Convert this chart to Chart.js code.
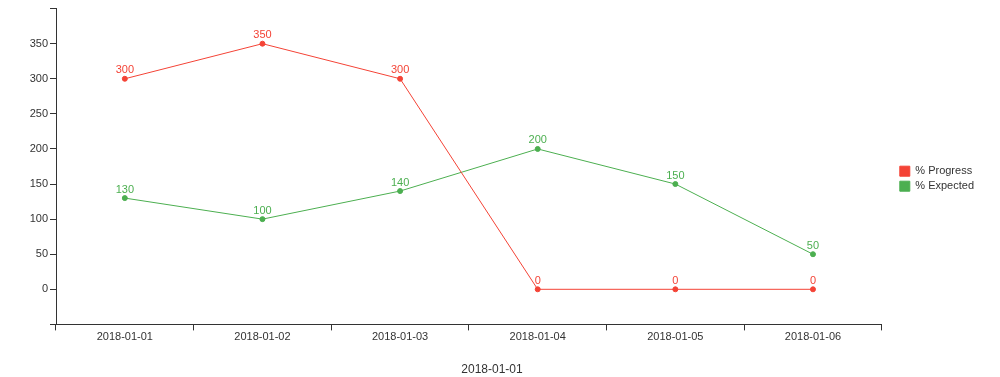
<!DOCTYPE html>
<html>
<head>
<meta charset="utf-8">
<script src="https://cdn.jsdelivr.net/npm/chart.js@4"></script>
<style>
  html, body { margin: 0; padding: 0; background: #fff; }
  #wrap { width: 1000px; height: 377px; }
</style>
</head>
<body>
<div id="wrap"><canvas id="chart"></canvas></div>
<script>
const categories = ['2018-01-01', '2018-01-02', '2018-01-03', '2018-01-04', '2018-01-05', '2018-01-06'];
const progress = [300, 350, 300, 0, 0, 0];
const expected = [130, 100, 140, 200, 150, 50];
const xTitle = '2018-01-01';

const FONT = 'Liberation Sans, Arial, sans-serif';
const TEXT = '#333';

// value above each point, coloured like its line
const pointLabels = {
    id: 'pointLabels',
    afterDatasetsDraw(chart) {
        const ctx = chart.ctx;
        ctx.save();
        ctx.font = '11px ' + FONT;
        ctx.textAlign = 'center';
        ctx.textBaseline = 'bottom';
        chart.data.datasets.forEach((ds, i) => {
            const meta = chart.getDatasetMeta(i);
            ctx.fillStyle = ds.borderColor;
            meta.data.forEach((pt, j) => {
                ctx.fillText(ds.data[j], pt.x, pt.y - 3);
            });
        });
        ctx.restore();
    }
};

new Chart(document.getElementById('chart').getContext('2d'), {
    type: 'line',
    data: {
        labels: categories,
        datasets: [
            {
                label: '% Progress',
                data: progress,
                borderColor: '#f44336',
                backgroundColor: '#f44336',
                borderWidth: 1,
                pointRadius: 2.5,
                tension: 0
            },
            {
                label: '% Expected',
                data: expected,
                borderColor: '#4caf50',
                backgroundColor: '#4caf50',
                borderWidth: 1,
                pointRadius: 2.5,
                tension: 0
            }
        ]
    },
    options: {
        responsive: true,
        maintainAspectRatio: false,
        animation: false,
        layout: { padding: { left: 0, right: 16, top: 8, bottom: 0 } },
        scales: {
            x: {
                type: 'category',
                offset: true,
                grid: { offset: true, drawOnChartArea: false, tickLength: 6, color: TEXT },
                border: { color: TEXT },
                ticks: { font: { family: FONT, size: 11 }, color: TEXT, padding: 0, maxRotation: 0 }
            },
            y: {
                min: -50,
                max: 400,
                grid: { drawOnChartArea: false, tickLength: 6, color: TEXT },
                border: { color: TEXT },
                ticks: {
                    stepSize: 50,
                    font: { family: FONT, size: 11 },
                    color: TEXT,
                    padding: 2,
                    callback: v => (v < 0 || v > 350) ? '' : v
                },
                afterFit: s => { s.width = 56; }
            },
            spacer: {
                position: 'right',
                display: true,
                grid: { display: false },
                border: { display: false },
                ticks: { display: false },
                afterFit: s => { s.width = 14; }
            }
        },
        plugins: {
            legend: {
                position: 'right',
                fullSize: false,
                title: { display: true, text: '', padding: { top: 10, bottom: 0 } },
                labels: {
                    boxWidth: 10,
                    boxHeight: 10,
                    padding: 4,
                    color: TEXT,
                    font: { family: FONT, size: 11 }
                }
            },
            title: {
                display: true,
                position: 'bottom',
                text: xTitle,
                color: TEXT,
                font: { family: FONT, size: 12, weight: 'normal' },
                padding: { top: 19, bottom: 0 }
            },
            tooltip: { enabled: false }
        }
    },
    plugins: [pointLabels]
});
</script>
</body>
</html>
